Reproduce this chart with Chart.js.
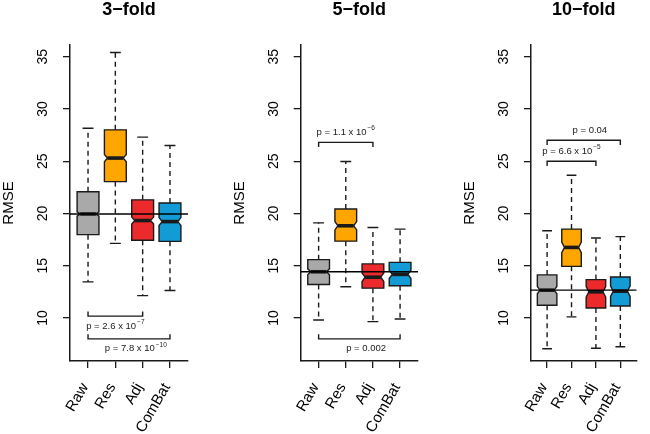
<!DOCTYPE html>
<html>
<head>
<meta charset="utf-8">
<script src="https://cdn.jsdelivr.net/npm/chart.js@4.4.1/dist/chart.umd.min.js"></script>
<style>
  body { margin: 0; background: #fff; }
  #wrap { position: relative; width: 650px; height: 434px; overflow: hidden; }
  #wrap canvas { position: absolute; top: 0; }
</style>
</head>
<body>
<div id="wrap">
  <canvas id="c3" width="200" height="434" style="left:0px"></canvas>
  <canvas id="c5" width="230" height="434" style="left:200px"></canvas>
  <canvas id="c10" width="220" height="434" style="left:430px"></canvas>
</div>
<script>
const categories = ['Raw', 'Res', 'Adj', 'ComBat'];
const yTicks = [10, 15, 20, 25, 30, 35];
const yLimits = [7, 35];

// 3-fold
const whiskerLo3 = [13.45, 17.14, 12.14, 12.62];
const hingeLo3 = [17.97, 23.05, 17.43, 17.33];
const median3 = [19.95, 25.3, 19.32, 19.22];
const hingeHi3 = [22.07, 28.0, 21.3, 21.0];
const whiskerHi3 = [28.15, 35.4, 27.3, 26.5];
const notch3 = [0.2, 0.35, 0.33, 0.38];
const pairs3 = [[1, 3], [1, 4]];
const pairY3 = [10.17, 8.0];
const pairSide3 = ['below', 'below'];
const pairLabelX3 = [2, 2.75];
const pLabels3 = [['p = 2.6 x 10', '\u22127'], ['p = 7.8 x 10', '\u221210']];

// 5-fold
const whiskerLo5 = [9.8, 12.98, 9.65, 9.9];
const hingeLo5 = [13.2, 17.35, 12.85, 13.08];
const median5 = [14.42, 18.82, 13.9, 14.17];
const hingeHi5 = [15.58, 20.42, 15.17, 15.32];
const whiskerHi5 = [19.1, 24.97, 18.65, 18.5];
const notch5 = [0.28, 0.4, 0.4, 0.4];
const pairs5 = [[1, 3], [1, 4]];
const pairY5 = [26.8, 8.0];
const pairSide5 = ['above', 'below'];
const pairLabelX5 = [2, 2.75];
const pLabels5 = [['p = 1.1 x 10', '\u22126'], ['p = 0.002', '']];

// 10-fold
const whiskerLo10 = [7.05, 10.1, 7.1, 7.25];
const hingeLo10 = [11.22, 14.94, 10.95, 11.15];
const median10 = [12.66, 16.75, 12.5, 12.56];
const hingeHi10 = [14.12, 18.5, 13.67, 13.92];
const whiskerHi10 = [18.35, 23.65, 17.65, 17.78];
const notch10 = [0.35, 0.5, 0.5, 0.5];
const pairs10 = [[1, 4], [1, 3]];
const pairY10 = [27.0, 25.0];
const pairSide10 = ['above', 'above'];
const pairLabelX10 = [2.75, 2];
const pLabels10 = [['p = 0.04', ''], ['p = 6.6 x 10', '\u22125']];

const boxColors = ['#a9a9a9', '#ffa500', '#ec2a2c', '#139bd6'];
const ink = '#1a1a1a';
const fontFamily = '"Liberation Sans", Arial, Helvetica, sans-serif';
Chart.defaults.font.family = fontFamily;

function boxPlugin(s) {
  return {
    id: 'notchBoxes',
    afterDatasetsDraw(chart) {
      const { ctx, chartArea } = chart;
      const xs = chart.scales.x, ys = chart.scales.y;
      const px = v => xs.getPixelForValue(v);
      const py = v => ys.getPixelForValue(v);
      ctx.save();
      s.median.forEach((med, i) => {
        const cx = px(i + 1);
        const hw = px(i + 1 + 0.4) - cx;   // boxwex 0.8
        const sw = hw * 0.5;               // staple
        const nw = hw * 0.72;              // notch waist
        const yMed = py(med);
        const yNt = py(med + s.notch[i]);
        const yNb = py(med - s.notch[i]);
        const yQ1 = py(s.hingeLo[i]), yQ3 = py(s.hingeHi[i]);
        const yWl = py(s.whiskerLo[i]), yWh = py(s.whiskerHi[i]);

        ctx.strokeStyle = ink;
        ctx.lineWidth = 1.4;
        ctx.setLineDash([5, 4]);
        ctx.beginPath();
        ctx.moveTo(cx, yQ3); ctx.lineTo(cx, yWh);
        ctx.moveTo(cx, yQ1); ctx.lineTo(cx, yWl);
        ctx.stroke();
        ctx.setLineDash([]);
        ctx.beginPath();
        ctx.moveTo(cx - sw, yWh); ctx.lineTo(cx + sw, yWh);
        ctx.moveTo(cx - sw, yWl); ctx.lineTo(cx + sw, yWl);
        ctx.stroke();

        ctx.beginPath();
        ctx.moveTo(cx - hw, yQ3);
        ctx.lineTo(cx + hw, yQ3);
        ctx.lineTo(cx + hw, yNt);
        ctx.lineTo(cx + nw, yMed);
        ctx.lineTo(cx + hw, yNb);
        ctx.lineTo(cx + hw, yQ1);
        ctx.lineTo(cx - hw, yQ1);
        ctx.lineTo(cx - hw, yNb);
        ctx.lineTo(cx - nw, yMed);
        ctx.lineTo(cx - hw, yNt);
        ctx.closePath();
        ctx.fillStyle = boxColors[i];
        ctx.fill();
        ctx.lineWidth = 1.4;
        ctx.stroke();

        ctx.lineWidth = 3.6;
        ctx.beginPath();
        ctx.moveTo(cx - nw, yMed); ctx.lineTo(cx + nw, yMed);
        ctx.stroke();
      });

      // reference line at the Raw median
      const yRef = py(s.median[0]);
      ctx.strokeStyle = '#000';
      ctx.lineWidth = 1.4;
      ctx.beginPath();
      ctx.moveTo(chartArea.left, yRef); ctx.lineTo(chartArea.right, yRef);
      ctx.stroke();

      // significance brackets
      s.pairs.forEach((pr, k) => {
        const y0 = py(s.pairY[k]);
        const dir = s.pairSide[k] === 'below' ? 1 : -1;
        const yTip = py(s.pairY[k] + 0.45 * dir);
        const x1 = px(pr[0]), x2 = px(pr[1]);
        ctx.strokeStyle = ink;
        ctx.lineWidth = 1.4;
        ctx.beginPath();
        ctx.moveTo(x1, yTip); ctx.lineTo(x1, y0); ctx.lineTo(x2, y0); ctx.lineTo(x2, yTip);
        ctx.stroke();

        const [base, sup] = s.labels[k];
        ctx.fillStyle = ink;
        ctx.textBaseline = 'middle';
        ctx.textAlign = 'left';
        ctx.font = '9.5px ' + fontFamily;
        const wb = ctx.measureText(base).width;
        ctx.font = '6.5px ' + fontFamily;
        const ws = sup ? ctx.measureText(sup).width + 1 : 0;
        const tx = px(s.labelX[k]) - (wb + ws) / 2;
        const ty = y0 + dir * 10;
        ctx.font = '9.5px ' + fontFamily;
        ctx.fillText(base, tx, ty);
        if (sup) {
          ctx.font = '6.5px ' + fontFamily;
          ctx.fillText(sup, tx + wb + 1, ty - 4);
        }
      });
      ctx.restore();
    }
  };
}

function makePanel(id, title, s, padLeft, padRight) {
  const ext = (yLimits[1] - yLimits[0]) * 0.04;
  new Chart(document.getElementById(id), {
    type: 'scatter',
    data: {
      datasets: [{
        data: categories.map((c, i) => ({ x: i + 1, y: s.median[i] })),
        pointRadius: 0
      }]
    },
    options: {
      responsive: false,
      animation: false,
      events: [],
      layout: { padding: { left: padLeft, right: padRight, top: 0, bottom: 0 } },
      plugins: {
        legend: { display: false },
        tooltip: { enabled: false },
        title: {
          display: true, text: title, fullSize: false, color: '#000',
          font: { size: 18, weight: 'bold', lineHeight: 1 },
          padding: { top: 1, bottom: 26 }
        }
      },
      scales: {
        x: {
          type: 'linear',
          min: 0.5 - 0.16, max: categories.length + 0.5 + 0.16,
          afterBuildTicks: a => { a.ticks = categories.map((c, i) => ({ value: i + 1 })); },
          afterFit: sc => { sc.height = 73; },
          ticks: {
            callback: v => categories[v - 1],
            minRotation: 60, maxRotation: 60, autoSkip: false,
            padding: 12, labelOffset: -3,
            color: '#000', font: { size: 15 }
          },
          grid: { drawOnChartArea: false, drawTicks: true, tickLength: 7, tickColor: ink, lineWidth: 1.3 },
          border: { display: true, color: ink, width: 1.5 }
        },
        y: {
          type: 'linear',
          min: yLimits[0] - ext, max: yLimits[1] + ext,
          afterBuildTicks: a => { a.ticks = yTicks.map(v => ({ value: v })); },
          afterFit: sc => { sc.width = 70; },
          ticks: {
            minRotation: 90, maxRotation: 90, crossAlign: 'center',
            padding: 12, color: '#000', font: { size: 14 }
          },
          grid: { drawOnChartArea: false, drawTicks: true, tickLength: 7, tickColor: ink, lineWidth: 1.3 },
          border: { display: true, color: ink, width: 1.5 },
          title: {
            display: true, text: 'RMSE', color: '#000',
            font: { size: 15 }, padding: { top: 0, bottom: 16.5 }
          }
        }
      }
    },
    plugins: [boxPlugin(s)]
  });
}

makePanel('c3', '3\u2212fold', {
  whiskerLo: whiskerLo3, hingeLo: hingeLo3, median: median3, hingeHi: hingeHi3, whiskerHi: whiskerHi3,
  notch: notch3, pairs: pairs3, pairY: pairY3, pairSide: pairSide3, labelX: pairLabelX3, labels: pLabels3
}, 0, 12);
makePanel('c5', '5\u2212fold', {
  whiskerLo: whiskerLo5, hingeLo: hingeLo5, median: median5, hingeHi: hingeHi5, whiskerHi: whiskerHi5,
  notch: notch5, pairs: pairs5, pairY: pairY5, pairSide: pairSide5, labelX: pairLabelX5, labels: pLabels5
}, 30.7, 12);
makePanel('c10', '10\u2212fold', {
  whiskerLo: whiskerLo10, hingeLo: hingeLo10, median: median10, hingeHi: hingeHi10, whiskerHi: whiskerHi10,
  notch: notch10, pairs: pairs10, pairY: pairY10, pairSide: pairSide10, labelX: pairLabelX10, labels: pLabels10
}, 31, 2);
</script>
</body>
</html>
